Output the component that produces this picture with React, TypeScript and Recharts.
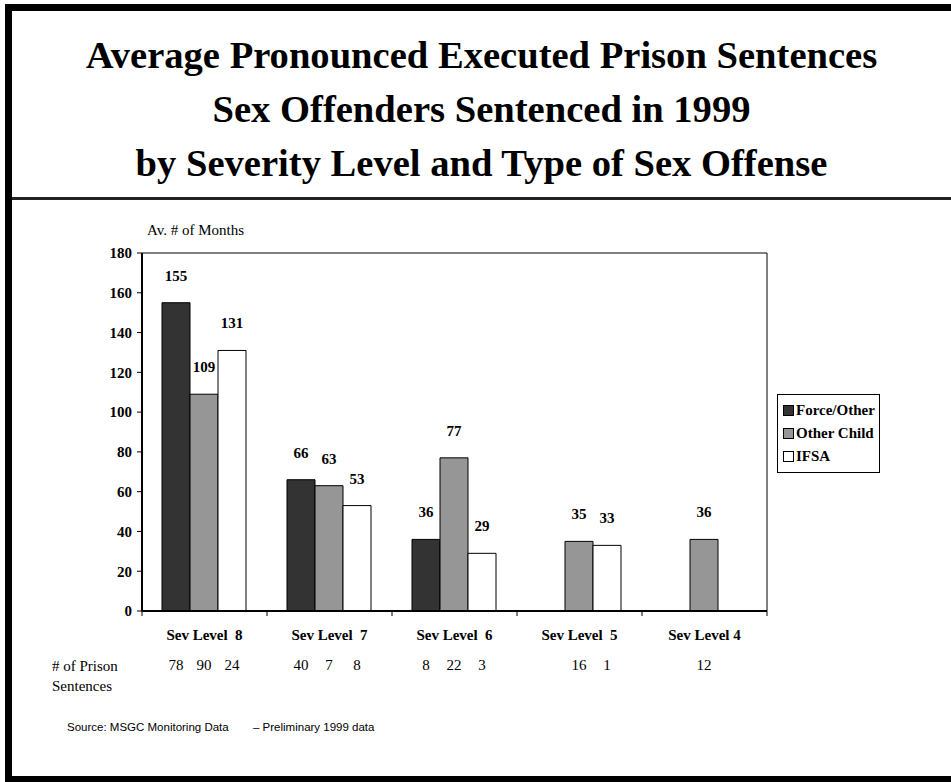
import React from 'react';
import { BarChart, Bar, XAxis, YAxis, Legend, LabelList, CartesianGrid } from 'recharts';

// Categories and series (average months; counts of prison sentences)
const levels = ['Sev Level\u00a0 8', 'Sev Level\u00a0 7', 'Sev Level\u00a0 6', 'Sev Level\u00a0 5', 'Sev Level 4'];
const seriesNames = ['Force/Other', 'Other Child', 'IFSA'];
const forceOther = [155, 66, 36, null, null];
const otherChild = [109, 63, 77, 35, 36];
const ifsa = [131, 53, 29, 33, null];
const forceCount = [78, 40, 8, null, null];
const childCount = [90, 7, 22, 16, 12];
const ifsaCount = [24, 8, 3, 1, null];
const yTicks = [0, 20, 40, 60, 80, 100, 120, 140, 160, 180];

const data = levels.map((level, i) => ({
  level,
  force: forceOther[i],
  child: otherChild[i],
  ifsa: ifsa[i],
  forceN: forceCount[i],
  childN: childCount[i],
  ifsaN: ifsaCount[i],
}));

const SERIF = '"Liberation Serif", "Times New Roman", serif';
const SANS = '"Liberation Sans", Arial, sans-serif';

const CHART_W = 951;
const CHART_H = 782;
const MARGIN = { top: 253, right: 184, bottom: 131, left: 82 };
const Y_AXIS_W = 60;

// category label plus tick marks on the band edges
const LevelTick = (props: any) => {
  const { x, y, payload, index, visibleTicksCount } = props;
  const axisW =
    typeof props.width === 'number' && props.width > 0
      ? props.width
      : CHART_W - MARGIN.left - MARGIN.right - Y_AXIS_W;
  const band = axisW / visibleTicksCount;
  const left = x - band / 2;
  return (
    <g>
      <line x1={left} y1={y} x2={left} y2={y + 5} stroke="#000" strokeWidth={1} />
      {index === visibleTicksCount - 1 && (
        <line x1={x + band / 2} y1={y} x2={x + band / 2} y2={y + 5} stroke="#000" strokeWidth={1} />
      )}
      <text
        x={x}
        y={y + 29}
        textAnchor="middle"
        fill="#000"
        fontFamily={SERIF}
        fontWeight="bold"
        fontSize={15}
        style={{ whiteSpace: 'pre' }}
      >
        {payload.value}
      </text>
    </g>
  );
};

// sentence counts printed under each bar
const CountLabel = (props: any) => {
  const { value } = props;
  if (value === null || value === undefined) return null;
  const vb = props.viewBox || props;
  const { x, y, width, height } = vb;
  return (
    <text
      x={x + width / 2}
      y={y + height + 59}
      textAnchor="middle"
      fill="#000"
      fontFamily={SERIF}
      fontSize={15}
    >
      {value}
    </text>
  );
};

const LegendBox = ({ payload }: any) => {
  const items = [...(payload || [])].sort(
    (a: any, b: any) => seriesNames.indexOf(a.value) - seriesNames.indexOf(b.value)
  );
  return (
    <div
      style={{
        border: '1px solid #000',
        background: '#fff',
        padding: '4px 0 4px 5px',
        fontFamily: SERIF,
        fontWeight: 'bold',
        fontSize: 15,
        color: '#000',
        boxSizing: 'border-box',
      }}
    >
      {items.map((entry: any) => (
        <div key={entry.value} style={{ display: 'flex', alignItems: 'center', height: 23, whiteSpace: 'nowrap' }}>
          <span
            style={{
              display: 'inline-block',
              width: 9,
              height: 9,
              background: entry.color,
              border: '1px solid #000',
              marginRight: 2,
            }}
          />
          {entry.value}
        </div>
      ))}
    </div>
  );
};

const valueLabelProps = {
  position: 'top' as const,
  offset: 22,
  fill: '#000',
  fontFamily: SERIF,
  fontWeight: 'bold',
  fontSize: 15,
};

export default function App() {
  return (
    <div
      style={{
        position: 'absolute',
        left: 0,
        top: 0,
        width: CHART_W,
        height: CHART_H,
        overflow: 'hidden',
        background: '#fff',
      }}
    >
      {/* outer frame */}
      <div
        style={{
          position: 'absolute',
          left: 5,
          top: 4,
          width: 970,
          height: 779,
          border: '7px solid #000',
          boxSizing: 'border-box',
        }}
      />
      {/* title */}
      <div
        style={{
          position: 'absolute',
          left: 12,
          top: 28,
          width: 939,
          textAlign: 'center',
          fontFamily: SERIF,
          fontWeight: 'bold',
          fontSize: 38.6,
          lineHeight: '54px',
          color: '#000',
        }}
      >
        <div>Average Pronounced Executed Prison Sentences</div>
        <div>Sex Offenders Sentenced in 1999</div>
        <div>by Severity Level and Type of Sex Offense</div>
      </div>
      <div style={{ position: 'absolute', left: 12, top: 197, width: 939, height: 3, background: '#222' }} />

      <div style={{ position: 'absolute', left: 0, top: 0 }}>
        <BarChart
          width={CHART_W}
          height={CHART_H}
          data={data}
          margin={MARGIN}
          barCategoryGap={20}
          barGap={0}
        >
          <CartesianGrid
            stroke="#000"
            strokeWidth={1}
            horizontalCoordinatesGenerator={({ offset }: any) => [offset.top]}
            verticalCoordinatesGenerator={({ offset }: any) => [offset.left + offset.width]}
          />
          <XAxis
            dataKey="level"
            height={40}
            axisLine={{ stroke: '#000', strokeWidth: 2 }}
            tickLine={false}
            tickSize={0}
            tickMargin={0}
            interval={0}
            tick={<LevelTick />}
          />
          <YAxis
            width={Y_AXIS_W}
            domain={[0, 180]}
            ticks={yTicks}
            interval={0}
            axisLine={{ stroke: '#000', strokeWidth: 2 }}
            tickLine={{ stroke: '#000' }}
            tickSize={5}
            tickMargin={5}
            tick={{ fill: '#000', fontFamily: SERIF, fontWeight: 'bold', fontSize: 15 }}
          />
          <Legend
            layout="vertical"
            align="center"
            verticalAlign="middle"
            content={<LegendBox />}
            wrapperStyle={{ left: 777, top: 394, width: 103, height: 77 }}
          />
          <Bar dataKey="force" name={seriesNames[0]} fill="#333333" stroke="#000" strokeWidth={1} isAnimationActive={false}>
            <LabelList dataKey="force" {...valueLabelProps} />
            <LabelList dataKey="forceN" content={<CountLabel />} />
          </Bar>
          <Bar dataKey="child" name={seriesNames[1]} fill="#969696" stroke="#000" strokeWidth={1} isAnimationActive={false}>
            <LabelList dataKey="child" {...valueLabelProps} />
            <LabelList dataKey="childN" content={<CountLabel />} />
          </Bar>
          <Bar dataKey="ifsa" name={seriesNames[2]} fill="#ffffff" stroke="#000" strokeWidth={1} isAnimationActive={false}>
            <LabelList dataKey="ifsa" {...valueLabelProps} />
            <LabelList dataKey="ifsaN" content={<CountLabel />} />
          </Bar>
        </BarChart>
      </div>

      <div style={{ position: 'absolute', left: 147, top: 222, fontFamily: SERIF, fontSize: 15, color: '#000', whiteSpace: 'nowrap' }}>
        Av. # of Months
      </div>
      <div style={{ position: 'absolute', left: 52, top: 656, fontFamily: SERIF, fontSize: 15, lineHeight: '20px', color: '#000' }}>
        # of Prison
        <br />
        Sentences
      </div>
      <div style={{ position: 'absolute', left: 67, top: 721, fontFamily: SANS, fontSize: 11.5, color: '#000', whiteSpace: 'nowrap' }}>
        <span>Source: MSGC Monitoring Data</span>
        <span style={{ position: 'absolute', left: 186 }}>– Preliminary 1999 data</span>
      </div>
    </div>
  );
}
